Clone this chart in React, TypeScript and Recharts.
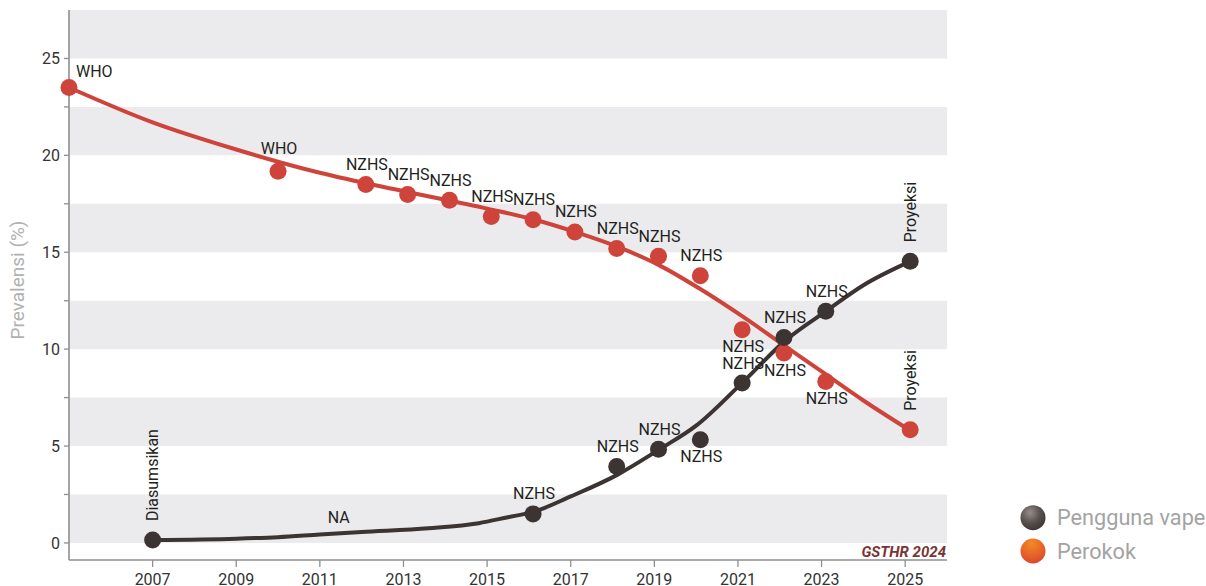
import React from 'react';
import { ComposedChart, Line, Scatter, XAxis, YAxis, ReferenceArea } from 'recharts';

// ---- data ----
const xTicks = [2007, 2009, 2011, 2013, 2015, 2017, 2019, 2021, 2023, 2025];
const yTicks = [0, 2.5, 5, 7.5, 10, 12.5, 15, 17.5, 20, 22.5, 25];
const bandStarts = [0, 5, 10, 15, 20, 25];

const smokerYears = [2005, 2010, 2012.1, 2013.1, 2014.1, 2015.1, 2016.1, 2017.1, 2018.1, 2019.1, 2020.1, 2021.1, 2022.1, 2023.1, 2025.12];
const smokerValues = [23.5, 19.18, 18.49, 17.98, 17.68, 16.84, 16.68, 16.05, 15.19, 14.79, 13.79, 11.0, 9.8, 8.33, 5.84];
const smokerSources = ['WHO', 'WHO', 'NZHS', 'NZHS', 'NZHS', 'NZHS', 'NZHS', 'NZHS', 'NZHS', 'NZHS', 'NZHS', 'NZHS', 'NZHS', 'NZHS', 'Proyeksi'];

const vapeYears = [2007, 2016.1, 2018.1, 2019.1, 2020.1, 2021.1, 2022.1, 2023.1, 2025.12];
const vapeValues = [0.15, 1.5, 3.94, 4.84, 5.32, 8.25, 10.6, 11.95, 14.53];
const vapeSources = ['Diasumsikan', 'NZHS', 'NZHS', 'NZHS', 'NZHS', 'NZHS', 'NZHS', 'NZHS', 'Proyeksi'];

const noteYears = [2011.45];
const noteValues = [0.5];
const noteLabels = ['NA'];

const smokerTrendYears = [2005, 2007, 2009, 2011, 2013, 2015, 2016.1, 2017.1, 2018.1, 2019.1, 2020.1, 2021.1, 2022, 2023, 2024, 2025.12];
const smokerTrendValues = [23.5, 21.7, 20.3, 19.1, 18.15, 17.25, 16.7, 16.05, 15.3, 14.35, 13.1, 11.7, 10.35, 8.85, 7.35, 5.8];

const vapeTrendYears = [2007, 2009, 2010, 2011, 2012, 2013.6, 2014.8, 2015.5, 2016.1, 2017, 2018.1, 2019.1, 2020, 2021.1, 2022.16, 2023.1, 2024, 2025.12];
const vapeTrendValues = [0.15, 0.22, 0.3, 0.44, 0.57, 0.76, 1.02, 1.33, 1.6, 2.4, 3.5, 4.8, 6.05, 8.26, 10.49, 11.95, 13.3, 14.53];

const seriesNames = ['Pengguna vape', 'Perokok'];

// ---- tables ----
const smokerPoints = smokerYears.map((year, i) => ({ year, value: smokerValues[i], src: smokerSources[i], i }));
const vapePoints = vapeYears.map((year, i) => ({ year, value: vapeValues[i], src: vapeSources[i], i }));
const notePoints = noteYears.map((year, i) => ({ year, value: noteValues[i], src: noteLabels[i], i }));
const smokerTrend = smokerTrendYears.map((year, i) => ({ year, value: smokerTrendValues[i] }));
const vapeTrend = vapeTrendYears.map((year, i) => ({ year, value: vapeTrendValues[i] }));

// ---- styles ----
const RED = '#cf443a';
const DARK = '#3b3432';
const TEXT = '#231f20';
const FONT = 'Roboto, sans-serif';
const smokerBelow = new Set([2021.1, 2022.1, 2023.1]);
const vapeBelow = new Set([2020.1]);

const renderLabel = (cx: number, cy: number, src: string, mode: string) => {
  const common = { fontFamily: FONT, fontSize: 16, fill: TEXT } as any;
  if (mode === 'rotated') {
    const x = cx + 5.5;
    const y = cy - 19;
    return (
      <text {...common} x={x} y={y} textAnchor="start" transform={`rotate(-90 ${x} ${y})`}>
        {src}
      </text>
    );
  }
  if (mode === 'right') {
    return <text {...common} x={cx + 7} y={cy - 10.5} textAnchor="start">{src}</text>;
  }
  if (mode === 'below') {
    return <text {...common} x={cx + 1} y={cy + 22.5} textAnchor="middle">{src}</text>;
  }
  if (mode === 'aboveFar') {
    return <text {...common} x={cx + 1} y={cy - 17} textAnchor="middle">{src}</text>;
  }
  return <text {...common} x={cx + 1} y={cy - 14.5} textAnchor="middle">{src}</text>;
};

const smokerShape = (props: any) => {
  const { cx, cy, payload } = props;
  let mode = 'above';
  if (payload.i === 0) mode = 'right';
  else if (payload.i === 1) mode = 'aboveFar';
  else if (payload.src === 'Proyeksi') mode = 'rotated';
  else if (smokerBelow.has(payload.year)) mode = 'below';
  return (
    <g>
      <circle cx={cx} cy={cy} r={8.5} fill={RED} />
      {renderLabel(cx, cy, payload.src, mode)}
    </g>
  );
};

const vapeShape = (props: any) => {
  const { cx, cy, payload } = props;
  let mode = 'above';
  if (payload.src === 'Proyeksi' || payload.src === 'Diasumsikan') mode = 'rotated';
  else if (vapeBelow.has(payload.year)) mode = 'below';
  return (
    <g>
      <circle cx={cx} cy={cy} r={8.5} fill={DARK} />
      {renderLabel(cx, cy, payload.src, mode)}
    </g>
  );
};

const noteShape = (props: any) => {
  const { cx, cy, payload } = props;
  return (
    <text x={cx} y={cy - 10.5} textAnchor="middle" fontFamily={FONT} fontSize={16} fill={TEXT}>
      {payload.src}
    </text>
  );
};

const YLabel = (props: any) => {
  const vb = props.viewBox || { x: 19, y: 10, width: 50, height: 550 };
  const x = vb.x + 5;
  const y = vb.y + vb.height / 2 - 5;
  return (
    <text x={x} y={y} textAnchor="middle" transform={`rotate(-90 ${x} ${y})`} fontFamily={FONT} fontSize={19} fill="#b1b1b1">
      Prevalensi (%)
    </text>
  );
};

export default function App() {
  return (
    <div style={{ position: 'absolute', left: 0, top: 0, width: 1206, height: 586, fontFamily: FONT, background: '#fff' }}>
      <ComposedChart width={1206} height={586} margin={{ top: 10, right: 259, bottom: 0, left: 19 }}>
        {bandStarts.map((b) => (
          <ReferenceArea key={b} y1={b} y2={b + 2.5} fill="#ebebed" fillOpacity={1} stroke="none" ifOverflow="visible" />
        ))}
        <XAxis
          type="number"
          dataKey="year"
          domain={[2005, 2026]}
          ticks={xTicks}
          height={26}
          tickSize={7}
          tickMargin={7}
          axisLine={{ stroke: '#8f8f8f', strokeWidth: 1.6 }}
          tickLine={{ stroke: '#8f8f8f', strokeWidth: 1.3 }}
          tick={{ fill: '#333', fontSize: 16, fontFamily: FONT }}
          interval={0}
        />
        <YAxis
          type="number"
          domain={[-0.88, 27.5]}
          ticks={yTicks}
          width={50}
          tickSize={5}
          tickMargin={4}
          interval={0}
          tickFormatter={(v: number) => (Number.isInteger(v) ? String(v) : '')}
          axisLine={{ stroke: '#8f8f8f', strokeWidth: 1.6 }}
          tickLine={{ stroke: '#8f8f8f', strokeWidth: 1.3 }}
          tick={{ fill: '#333', fontSize: 16, fontFamily: FONT }}
          label={<YLabel />}
        />
        <Line data={vapeTrend} dataKey="value" type="monotone" stroke={DARK} strokeWidth={4} dot={false} activeDot={false} isAnimationActive={false} />
        <Line data={smokerTrend} dataKey="value" type="monotone" stroke={RED} strokeWidth={4} dot={false} activeDot={false} isAnimationActive={false} />
        <Scatter data={smokerPoints} dataKey="value" shape={smokerShape} isAnimationActive={false} />
        <Scatter data={vapePoints} dataKey="value" shape={vapeShape} isAnimationActive={false} />
        <Scatter data={notePoints} dataKey="value" shape={noteShape} isAnimationActive={false} />
      </ComposedChart>
      <svg width={1206} height={586} style={{ position: 'absolute', left: 0, top: 0, pointerEvents: 'none' }}>
        <defs>
          <radialGradient id="gDark" cx="38%" cy="30%" r="75%">
            <stop offset="0%" stopColor="#958e8b" />
            <stop offset="55%" stopColor="#57514e" />
            <stop offset="100%" stopColor="#3a3432" />
          </radialGradient>
          <radialGradient id="gOrange" cx="45%" cy="20%" r="85%">
            <stop offset="0%" stopColor="#f28a24" />
            <stop offset="60%" stopColor="#e6602a" />
            <stop offset="100%" stopColor="#d4452b" />
          </radialGradient>
        </defs>
        <text x={946} y={556.5} textAnchor="end" fontFamily={FONT} fontSize={15} fontWeight="bold" fontStyle="italic" fill="#7a3434">
          GSTHR 2024
        </text>
        <circle cx={1033} cy={517.7} r={12.5} fill="url(#gDark)" />
        <text x={1057} y={525.3} fontFamily={FONT} fontSize={21.7} fill="#a3a3a3">{seriesNames[0]}</text>
        <circle cx={1033} cy={551} r={12.5} fill="url(#gOrange)" />
        <text x={1057} y={558.5} fontFamily={FONT} fontSize={21.7} fill="#a3a3a3">{seriesNames[1]}</text>
      </svg>
    </div>
  );
}
